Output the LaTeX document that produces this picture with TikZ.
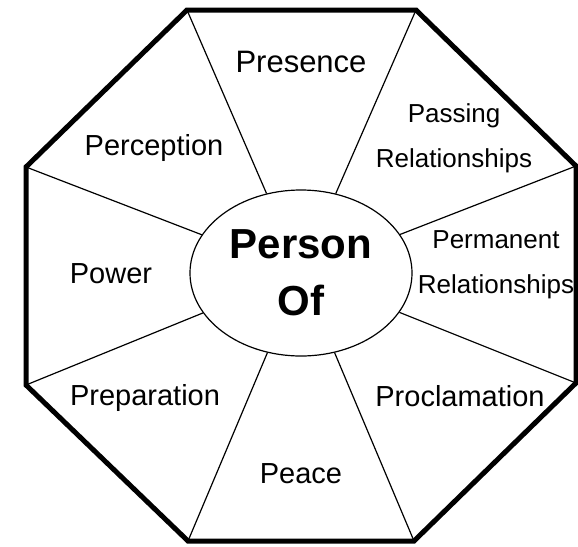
\documentclass[tikz,border=0pt]{standalone}
\usepackage{fontspec}
\setmainfont{Liberation Sans}
\usepackage{tikz}
\usetikzlibrary{shapes.geometric}

\begin{document}
\begin{tikzpicture}[
    x=1pt, y=-1pt,
    frame/.style={draw=black, line width=5pt, line join=miter},
    spoke/.style={draw=black, line width=1.2pt},
    hub/.style={ellipse, draw=black, line width=1.2pt, minimum width=222pt, minimum height=166pt, inner sep=0pt, align=center, font=\fontsize{42}{57}\selectfont\bfseries},
    sector/.style={anchor=base, inner sep=0pt, font=\fontsize{29}{34}\selectfont},
    sectortwo/.style={anchor=center, inner sep=0pt, align=center, font=\fontsize{26}{45}\selectfont}
]
\useasboundingbox (0,0) rectangle (578,546);

% Octagon corners
\coordinate (tl) at (187,10);
\coordinate (tr) at (416,10);
\coordinate (rt) at (576,166);
\coordinate (rb) at (576,383);
\coordinate (br) at (414,541);
\coordinate (bl) at (188,541);
\coordinate (lb) at (26,385);
\coordinate (lt) at (26,167);

% Outer frame
\draw[frame] (tl) -- (tr) -- (rt) -- (rb) -- (br) -- (bl) -- (lb) -- (lt) -- cycle;

% Centre
\node[hub] (person) at (301,273) {Person\\Of};

% Spokes
\foreach \corner in {tl,tr,rt,rb,br,bl,lb,lt}
    \draw[spoke] (person) -- (\corner);

% Sectors
\node[sector, font=\fontsize{31}{36}\selectfont] (presence) at (301,72) {Presence};
\node[sectortwo] (passing) at (454,138) {Passing\\Relationships};
\node[sectortwo] (permanent) at (496,265) {Permanent\\Relationships};
\node[sector] (proclamation) at (460,406) {Proclamation};
\node[sector] (peace) at (301,483) {Peace};
\node[sector] (preparation) at (145,405) {Preparation};
\node[sector] (power) at (111,283) {Power};
\node[sector] (perception) at (154,155) {Perception};

\end{tikzpicture}
\end{document}
